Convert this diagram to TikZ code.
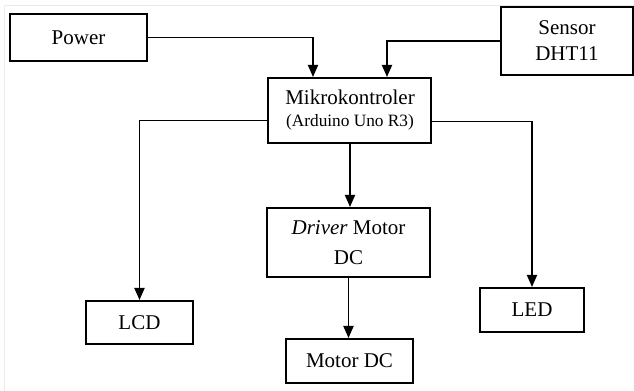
\documentclass[tikz,border=0pt]{standalone}
\usepackage{fontspec}
\setmainfont{Liberation Serif}
\usetikzlibrary{arrows.meta}
\tikzset{
  box/.style={draw, line width=1pt, inner sep=0pt, align=center,
    font=\fontsize{10.5}{12}\selectfont},
  arr/.style={->, line width=0.9pt}
}
\begin{document}
\begin{tikzpicture}[x=0.5pt, y=-0.5pt, >={Triangle[length=6pt,width=5pt]}]
  % Block diagram of the system
  \useasboundingbox (0,0) rectangle (634,391);
  \draw[black!8] (4,391) |- (634,5);

  \node[box, minimum width=68.5pt, minimum height=23.5pt] (power) at (78.5,37.5) {Power};
  \node[box, minimum width=66pt, minimum height=34pt] (sensor) at (567,41)
    {Sensor\\[1pt]DHT11};
  \node[box, minimum width=81.5pt, minimum height=32.5pt] (mcu) at (350,110.5)
    {Mikrokontroler\\[-1pt]{\fontsize{8.65}{10}\selectfont(Arduino Uno R3)}};
  \node[box, minimum width=81.5pt, minimum height=34.5pt] (driver) at (348.5,242.5)
    {\textit{Driver} Motor\\[3pt]DC};
  \node[box, minimum width=63.5pt, minimum height=22pt] (motor) at (349.5,361) {Motor DC};
  \node[box, minimum width=53.5pt, minimum height=21.5pt] (lcd) at (139.5,322.5) {LCD};
  \node[box, minimum width=52pt, minimum height=22pt] (led) at (532,310) {LED};

  \draw[arr] (power.east) -| ([xshift=-18.5pt]mcu.north);
  \draw[arr] (sensor.west) -| ([xshift=18.5pt]mcu.north);
  \draw[arr] ([yshift=-5pt]mcu.west) -| (lcd.north);
  \draw[arr] ([yshift=-5.5pt]mcu.east) -| (led.north);
  \draw[arr] (mcu.south) -- (mcu.south |- driver.north);
  \draw[arr] (driver.south) -- (driver.south |- motor.north);
\end{tikzpicture}
\end{document}
